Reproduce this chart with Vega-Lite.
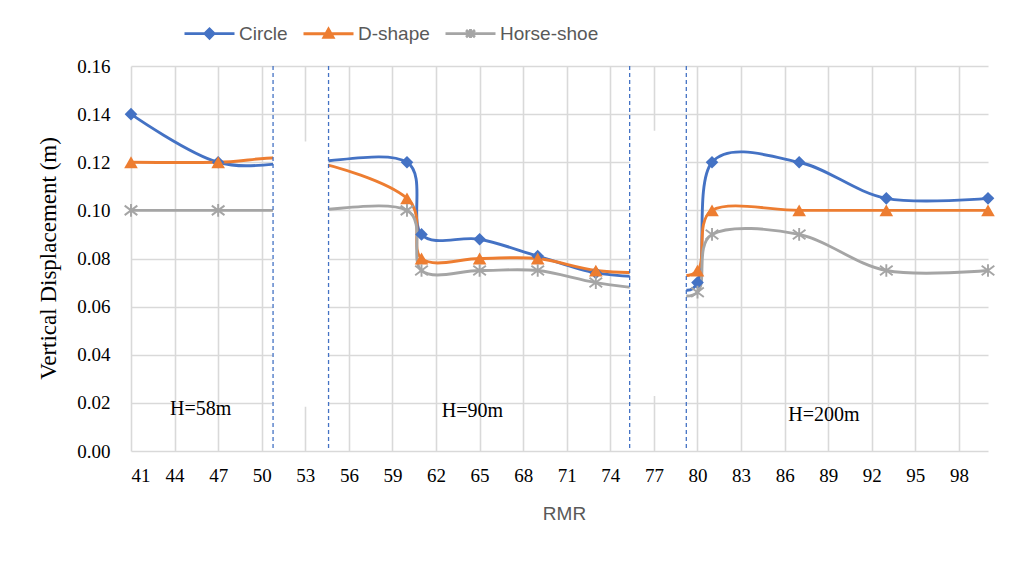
{
  "$schema": "https://vega.github.io/schema/vega-lite/v6.json",
  "width": 857,
  "height": 385,
  "autosize": {"type": "none"},
  "padding": {"left": 131, "top": 66, "right": 31, "bottom": 134},
  "background": "white",
  "config": {
    "view": {"stroke": null},
    "axis": {
      "grid": true,
      "gridColor": "#d9d9d9",
      "gridWidth": 1.6,
      "domain": false,
      "ticks": false,
      "labelFont": "Liberation Serif",
      "labelFontSize": 19,
      "labelColor": "#000000"
    }
  },
  "datasets": {
    "series": [
      {"RMR": 41, "series": "Circle", "value": 0.14},
      {"RMR": 47, "series": "Circle", "value": 0.12},
      {"RMR": 53, "series": "Circle", "value": 0.12},
      {"RMR": 60, "series": "Circle", "value": 0.12},
      {"RMR": 61, "series": "Circle", "value": 0.09},
      {"RMR": 65, "series": "Circle", "value": 0.088},
      {"RMR": 69, "series": "Circle", "value": 0.081},
      {"RMR": 73, "series": "Circle", "value": 0.074},
      {"RMR": 77, "series": "Circle", "value": 0.072},
      {"RMR": 80, "series": "Circle", "value": 0.07},
      {"RMR": 81, "series": "Circle", "value": 0.12},
      {"RMR": 87, "series": "Circle", "value": 0.12},
      {"RMR": 93, "series": "Circle", "value": 0.105},
      {"RMR": 100, "series": "Circle", "value": 0.105},
      {"RMR": 41, "series": "D-shape", "value": 0.12},
      {"RMR": 47, "series": "D-shape", "value": 0.12},
      {"RMR": 53, "series": "D-shape", "value": 0.121},
      {"RMR": 60, "series": "D-shape", "value": 0.105},
      {"RMR": 61, "series": "D-shape", "value": 0.08},
      {"RMR": 65, "series": "D-shape", "value": 0.08},
      {"RMR": 69, "series": "D-shape", "value": 0.08},
      {"RMR": 73, "series": "D-shape", "value": 0.075},
      {"RMR": 77, "series": "D-shape", "value": 0.074},
      {"RMR": 80, "series": "D-shape", "value": 0.075},
      {"RMR": 81, "series": "D-shape", "value": 0.1},
      {"RMR": 87, "series": "D-shape", "value": 0.1},
      {"RMR": 93, "series": "D-shape", "value": 0.1},
      {"RMR": 100, "series": "D-shape", "value": 0.1},
      {"RMR": 41, "series": "Horse-shoe", "value": 0.1},
      {"RMR": 47, "series": "Horse-shoe", "value": 0.1},
      {"RMR": 53, "series": "Horse-shoe", "value": 0.1},
      {"RMR": 60, "series": "Horse-shoe", "value": 0.1},
      {"RMR": 61, "series": "Horse-shoe", "value": 0.075},
      {"RMR": 65, "series": "Horse-shoe", "value": 0.075},
      {"RMR": 69, "series": "Horse-shoe", "value": 0.075},
      {"RMR": 73, "series": "Horse-shoe", "value": 0.07},
      {"RMR": 77, "series": "Horse-shoe", "value": 0.067},
      {"RMR": 80, "series": "Horse-shoe", "value": 0.066},
      {"RMR": 81, "series": "Horse-shoe", "value": 0.09},
      {"RMR": 87, "series": "Horse-shoe", "value": 0.09},
      {"RMR": 93, "series": "Horse-shoe", "value": 0.075},
      {"RMR": 100, "series": "Horse-shoe", "value": 0.075}
    ],
    "gaps": [
      {"start": 50.78, "end": 54.6, "low": 0.0184, "high": 0.1286},
      {"start": 75.33, "end": 79.23, "low": 0.0229, "high": 0.1331}
    ],
    "dividers": [
      {"RMR": 50.78},
      {"RMR": 54.6},
      {"RMR": 75.33},
      {"RMR": 79.23}
    ],
    "labels": [
      {"RMR": 45.8, "value": 0.0175, "text": "H=58m"},
      {"RMR": 64.5, "value": 0.0165, "text": "H=90m"},
      {"RMR": 88.7, "value": 0.015, "text": "H=200m"}
    ]
  },
  "layer": [
    {
      "data": {"name": "series"},
      "mark": {"type": "line", "interpolate": "cardinal", "strokeWidth": 2.9},
      "encoding": {
        "x": {
          "field": "RMR",
          "type": "quantitative",
          "title": "RMR",
          "scale": {"domain": [41, 100], "nice": false, "zero": false},
          "axis": {
            "values": [41, 44, 47, 50, 53, 56, 59, 62, 65, 68, 71, 74, 77, 80, 83, 86, 89, 92, 95, 98],
            "labelPadding": 15,
            "titleFont": "Liberation Sans",
            "titleFontSize": 19,
            "titleFontWeight": "normal",
            "titleColor": "#595959",
            "titleX": 433,
            "titleY": 62,
            "titleBaseline": "middle"
          }
        },
        "y": {
          "field": "value",
          "type": "quantitative",
          "title": "Vertical Displacement (m)",
          "scale": {"domain": [0, 0.16], "nice": false},
          "axis": {
            "values": [0, 0.02, 0.04, 0.06, 0.08, 0.1, 0.12, 0.14, 0.16],
            "format": ".2f",
            "labelPadding": 21,
            "titleFont": "Liberation Serif",
            "titleFontSize": 23,
            "titleFontWeight": "normal",
            "titleColor": "#000000",
            "titleAngle": 270,
            "titleX": -83,
            "titleY": 192,
            "titleBaseline": "middle",
            "titleAlign": "center"
          }
        },
        "color": {
          "field": "series",
          "type": "nominal",
          "scale": {"domain": ["Circle", "D-shape", "Horse-shoe"], "range": ["#4472C4", "#ED7D31", "#A5A5A5"]},
          "legend": {
            "orient": "none", "legendX": 52, "legendY": -59,
            "direction": "horizontal", "title": null,
            "symbolSize": 2500, "symbolStrokeWidth": 2.9,
            "labelFont": "Liberation Sans", "labelFontSize": 19, "labelColor": "#595959", "labelOffset": 3,
            "columnPadding": 9,
            "encode": {"symbols": {"update": {"fill": {"scale": "color", "field": "value"}, "stroke": {"scale": "color", "field": "value"}, "strokeWidth": {"value": 2.9}, "opacity": {"value": 1}}}}
          }
        }
      }
    },
    {
      "data": {"name": "series"},
      "transform": [{"filter": "datum.series === 'Circle'"}],
      "mark": {"type": "point", "shape": "diamond", "filled": true, "size": 160, "color": "#4472C4", "opacity": 1},
      "encoding": {
        "x": {"field": "RMR", "type": "quantitative", "title": "RMR"},
        "y": {"field": "value", "type": "quantitative", "title": "Vertical Displacement (m)"}
      }
    },
    {
      "data": {"name": "series"},
      "transform": [{"filter": "datum.series === 'D-shape'"}],
      "mark": {"type": "point", "shape": "triangle-up", "filled": true, "size": 185, "color": "#ED7D31", "opacity": 1},
      "encoding": {
        "x": {"field": "RMR", "type": "quantitative", "title": "RMR"},
        "y": {"field": "value", "type": "quantitative", "title": "Vertical Displacement (m)"}
      }
    },
    {
      "data": {"name": "series"},
      "transform": [{"filter": "datum.series === 'Horse-shoe'"}],
      "mark": {"type": "point", "shape": "M-1,-0.75L1,0.75M-1,0.75L1,-0.75M0,-1V1", "filled": false, "size": 160, "color": "#A5A5A5", "strokeWidth": 1.9, "opacity": 1},
      "encoding": {
        "x": {"field": "RMR", "type": "quantitative", "title": "RMR"},
        "y": {"field": "value", "type": "quantitative", "title": "Vertical Displacement (m)"}
      }
    },
    {
      "data": {"name": "series"},
      "transform": [{"filter": "datum.RMR < 0"}],
      "mark": {"type": "point", "filled": true},
      "encoding": {
        "x": {"field": "RMR", "type": "quantitative", "title": "RMR"},
        "y": {"field": "value", "type": "quantitative", "title": "Vertical Displacement (m)"},
        "shape": {
          "field": "series",
          "type": "nominal",
          "scale": {
            "domain": ["Circle", "D-shape", "Horse-shoe"],
            "range": [
              "M-1,0H1M0,-0.18L0.18,0L0,0.18L-0.18,0Z",
              "M-1,0H1M0,-0.18L0.18,0.14L-0.18,0.14Z",
              "M-1,0H1M-0.18,-0.14L0.18,0.14M-0.18,0.14L0.18,-0.14M0,-0.18V0.18"
            ]
          },
          "legend": {
            "orient": "none", "legendX": 52, "legendY": -59,
            "direction": "horizontal", "title": null,
            "symbolSize": 2500, "symbolStrokeWidth": 2.9,
            "labelFont": "Liberation Sans", "labelFontSize": 19, "labelColor": "#595959", "labelOffset": 3,
            "columnPadding": 9,
            "encode": {"symbols": {"update": {"fill": {"scale": "color", "field": "value"}, "stroke": {"scale": "color", "field": "value"}, "strokeWidth": {"value": 2.9}, "opacity": {"value": 1}}}}
          }
        }
      }
    },
    {
      "data": {"name": "gaps"},
      "mark": {"type": "rect", "fill": "white"},
      "encoding": {
        "x": {"field": "start", "type": "quantitative", "title": "RMR"},
        "x2": {"field": "end"},
        "y": {"field": "low", "type": "quantitative", "title": "Vertical Displacement (m)"},
        "y2": {"field": "high"}
      }
    },
    {
      "data": {"name": "dividers"},
      "mark": {"type": "rule", "color": "#4472C4", "strokeWidth": 1.3, "strokeDash": [4, 3]},
      "encoding": {
        "x": {"field": "RMR", "type": "quantitative", "title": "RMR"}
      }
    },
    {
      "data": {"name": "labels"},
      "mark": {"type": "text", "font": "Liberation Serif", "fontSize": 20, "color": "#000000", "align": "center", "baseline": "middle"},
      "encoding": {
        "x": {"field": "RMR", "type": "quantitative", "title": "RMR"},
        "y": {"field": "value", "type": "quantitative", "title": "Vertical Displacement (m)"},
        "text": {"field": "text"}
      }
    }
  ]
}
